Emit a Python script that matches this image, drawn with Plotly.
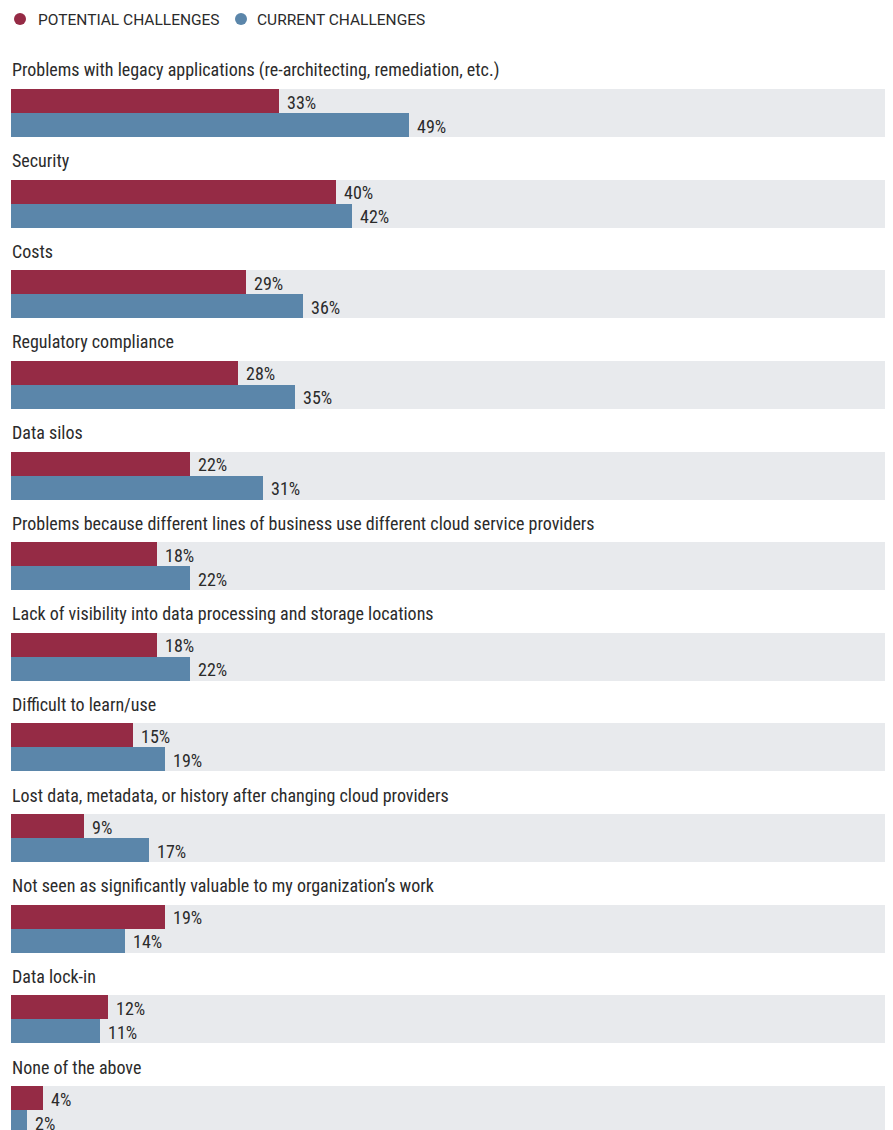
import plotly.graph_objects as go

categories = [
    "Problems with legacy applications (re-architecting, remediation, etc.)",
    "Security",
    "Costs",
    "Regulatory compliance",
    "Data silos",
    "Problems because different lines of business use different cloud service providers",
    "Lack of visibility into data processing and storage locations",
    "Difficult to learn/use",
    "Lost data, metadata, or history after changing cloud providers",
    "Not seen as significantly valuable to my organization\u2019s work",
    "Data lock-in",
    "None of the above",
]
potential = [33, 40, 29, 28, 22, 18, 18, 15, 9, 19, 12, 4]
current = [49, 42, 36, 35, 31, 22, 22, 19, 17, 14, 11, 2]
series_names = ["POTENTIAL CHALLENGES", "CURRENT CHALLENGES"]

RED = "#952b45"
BLUE = "#5b86aa"
GRAY = "#e8eaed"
TXT = "#2b2b2b"
COND = "Roboto Condensed, Liberation Sans Narrow, sans-serif"

# page is 893x1130, the html body has an 8px margin -> compensate
PAGE_W, PAGE_H, BODY = 893, 1130, 8
W, H = PAGE_W - BODY, PAGE_H - BODY
PLOT_L, PLOT_R = 11, 888          # page pixels of the plot area
ML, MR = PLOT_L - BODY, W - (PLOT_R - BODY)
XMAX = 108.0
ROW0, PITCH, BARH = 89, 90.64, 24

n = len(categories)
tops = [ROW0 + i * PITCH for i in range(n)]
y_red = [t + BARH / 2 for t in tops]
y_blue = [t + BARH * 1.5 for t in tops]

fig = go.Figure()
fig.add_trace(go.Bar(
    x=[XMAX] * n, y=[t + BARH for t in tops], orientation="h", width=2 * BARH,
    marker=dict(color=GRAY, line=dict(width=0)), hoverinfo="skip", showlegend=False))
fig.add_trace(go.Bar(
    x=potential, y=y_red, orientation="h", width=BARH, name=series_names[0],
    marker=dict(color=RED, line=dict(width=0)), showlegend=False))
fig.add_trace(go.Bar(
    x=current, y=y_blue, orientation="h", width=BARH, name=series_names[1],
    marker=dict(color=BLUE, line=dict(width=0)), showlegend=False))

ann = []
for i in range(n):
    ann.append(dict(x=0, xref="paper", y=tops[i] - 19, yref="y", text=categories[i],
                    showarrow=False, xanchor="left", yanchor="middle", xshift=-1,
                    font=dict(family=COND, size=18, color=TXT)))
    ann.append(dict(x=potential[i], xref="x", y=y_red[i] + 1, yref="y", text=f"{potential[i]}%",
                    showarrow=False, xanchor="left", yanchor="middle", xshift=6,
                    font=dict(family=COND, size=18, color=TXT)))
    ann.append(dict(x=current[i], xref="x", y=y_blue[i] + 1, yref="y", text=f"{current[i]}%",
                    showarrow=False, xanchor="left", yanchor="middle", xshift=6,
                    font=dict(family=COND, size=18, color=TXT)))

# legend (circles + labels)
shapes = []
PW = PLOT_R - PLOT_L
leg = [(20, RED, 36, series_names[0]), (241, BLUE, 255, series_names[1])]
for cx, col, tx, name in leg:
    px = (cx - PLOT_L) / PW
    r = 6 / PW
    shapes.append(dict(type="circle", xref="paper", yref="y", x0=px - r, x1=px + r,
                       y0=19 - 6, y1=19 + 6, fillcolor=col, line=dict(width=0)))
    ann.append(dict(x=(tx - PLOT_L) / PW, xref="paper", y=19.5, yref="y", text=name,
                    showarrow=False, xanchor="left", yanchor="middle",
                    font=dict(family="Roboto, Arial, sans-serif", size=15.5, color=TXT)))

fig.update_layout(
    width=W, height=H, margin=dict(l=ML, r=MR, t=0, b=0),
    paper_bgcolor="white", plot_bgcolor="white",
    barmode="overlay", bargap=0,
    xaxis=dict(range=[0, XMAX], visible=False, fixedrange=True),
    yaxis=dict(range=[PAGE_H, BODY], visible=False, fixedrange=True),
    annotations=ann, shapes=shapes, showlegend=False,
)
fig.write_html("out.html")
